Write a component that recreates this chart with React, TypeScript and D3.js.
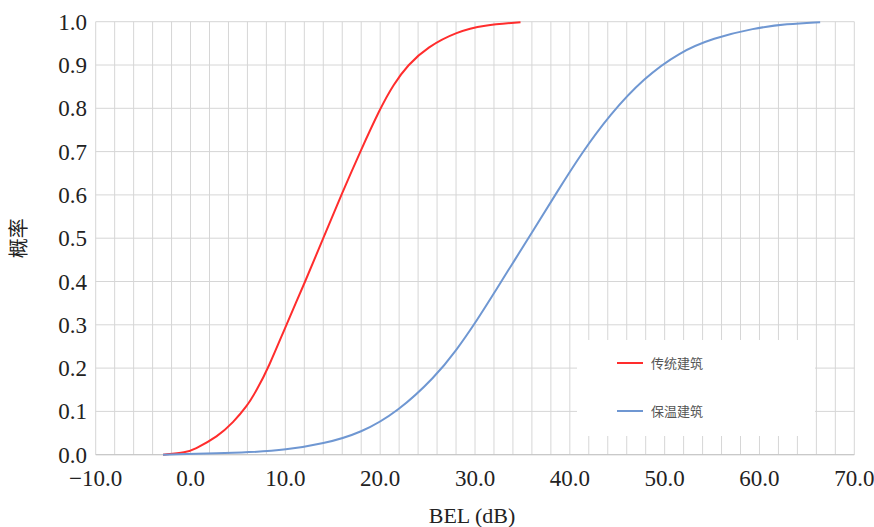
import React from "react";
import * as d3 from "d3";

const xTicks = [-10, 0, 10, 20, 30, 40, 50, 60, 70];
const yTicks = [0, 0.1, 0.2, 0.3, 0.4, 0.5, 0.6, 0.7, 0.8, 0.9, 1.0];

const seriesNames = ["传统建筑", "保温建筑"];
const seriesColors = ["#ff2d2d", "#6f97d2"];

const redX = [-2.9, -0.4, 0.3, 2.9, 4.5, 5.9, 7.0, 8.2, 10.1, 12.1, 14.0, 15.9, 17.9, 20.0, 21.4, 22.9, 25.0, 28.1, 30.9, 34.8];
const redP = [0, 0.006, 0.011, 0.042, 0.075, 0.11, 0.15, 0.2, 0.3, 0.4, 0.5, 0.6, 0.7, 0.8, 0.855, 0.9, 0.942, 0.977, 0.992, 0.999];

const blueX = [-2.9, 6.3, 10.0, 14.0, 18.0, 21.9, 25.8, 28.0, 30.2, 32.2, 34.2, 36.2, 38.6, 41.2, 44.2, 47.8, 51.6, 55.1, 59.4, 62.9, 66.4];
const blueP = [0, 0.005, 0.011, 0.025, 0.05, 0.1, 0.18, 0.24, 0.31, 0.38, 0.45, 0.52, 0.605, 0.695, 0.785, 0.87, 0.93, 0.962, 0.985, 0.995, 0.999];

const W = 874;
const H = 527;
const L = 95.7;
const R = 854.3;
const T = 21.7;
const B = 454.7;

export default function App() {
  const x = d3.scaleLinear().domain([-10, 70]).range([L, R]);
  const y = d3.scaleLinear().domain([0, 1]).range([B, T]);
  const gridX = d3.range(-10, 70.001, 2);
  const line = d3
    .line<[number, number]>()
    .x((d) => x(d[0]))
    .y((d) => y(d[1]))
    .curve(d3.curveBasis);
  const series = [
    redX.map((v, i) => [v, redP[i]] as [number, number]),
    blueX.map((v, i) => [v, blueP[i]] as [number, number]),
  ];
  const serif = { fontFamily: "'Liberation Serif', 'Times New Roman', 'DejaVu Serif', serif" };
  const cjk = { fontFamily: "'Noto Sans CJK SC', sans-serif" };
  return (
    <svg
      width={W}
      height={H}
      style={{ position: "absolute", left: 0, top: 0, background: "#fff" }}
    >
      <rect x={0} y={0} width={W} height={H} fill="#fff" />
      {gridX.map((g) => (
        <line key={"gx" + g} x1={x(g)} x2={x(g)} y1={T} y2={B} stroke="#d6d6d6" strokeWidth={1} />
      ))}
      {yTicks.map((t) => (
        <line key={"gy" + t} x1={L} x2={R} y1={y(t)} y2={y(t)} stroke="#d6d6d6" strokeWidth={1} />
      ))}
      <line x1={L} x2={R} y1={B} y2={B} stroke="#c4c4c4" strokeWidth={1} />
      <rect x={577} y={340} width={238} height={96} fill="#fff" />
      {series.map((s, i) => (
        <path key={"s" + i} d={line(s) || ""} fill="none" stroke={seriesColors[i]} strokeWidth={2} />
      ))}
      {yTicks.map((t) => (
        <text key={"yt" + t} x={87} y={y(t) + 8} textAnchor="end" style={serif} fontSize={23} fill="#222">
          {t.toFixed(1)}
        </text>
      ))}
      {xTicks.map((t) => (
        <text key={"xt" + t} x={x(t)} y={486} textAnchor="middle" style={serif} fontSize={23} fill="#222">
          {t < 0 ? "\u2212" + Math.abs(t).toFixed(1) : t.toFixed(1)}
        </text>
      ))}
      <text x={(L + R) / 2 - 3} y={523} textAnchor="middle" style={serif} fontSize={22} fill="#222">
        BEL (dB)
      </text>
      <text
        transform={`translate(26, ${(T + B) / 2}) rotate(-90)`}
        textAnchor="middle"
        style={cjk}
        fontSize={20}
        fill="#222"
      >
        概率
      </text>
      {seriesNames.map((n, i) => (
        <g key={"lg" + i}>
          <line x1={617} x2={643} y1={363 + i * 48} y2={363 + i * 48} stroke={seriesColors[i]} strokeWidth={2} />
          <text x={651} y={363 + i * 48 + 5} style={cjk} fontSize={13} fill="#555">
            {n}
          </text>
        </g>
      ))}
    </svg>
  );
}
